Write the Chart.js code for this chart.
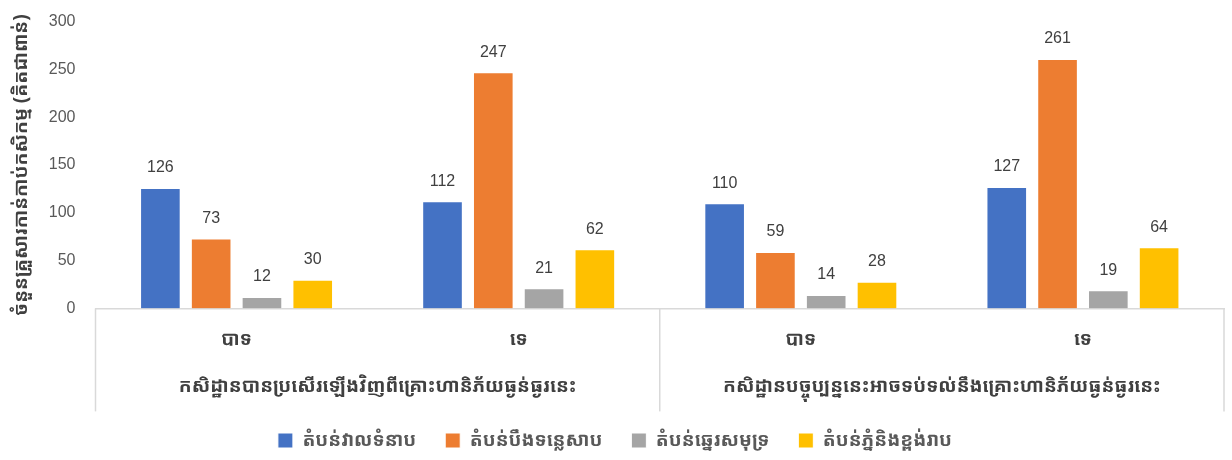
<!DOCTYPE html>
<html>
<head>
<meta charset="utf-8">
<script src="https://cdn.jsdelivr.net/npm/chart.js@4"></script>
<style>
  html, body { margin: 0; padding: 0; background: #fff; }
  #wrap { width: 1232px; height: 460px; }
</style>
</head>
<body>
<div id="wrap"><canvas id="myChart"></canvas></div>
<script>
// --------------- data -----------------------
const categories = ['បាទ', 'ទេ', 'បាទ', 'ទេ'];
const groups = [
    'កសិដ្ឋានបានប្រសើរឡើងវិញពីគ្រោះហានិភ័យធ្ងន់ធ្ងរនេះ',
    'កសិដ្ឋានបច្ចុប្បន្ននេះអាចទប់ទល់នឹងគ្រោះហានិភ័យធ្ងន់ធ្ងរនេះ'
];
const seriesNames = ['តំបន់វាលទំនាប', 'តំបន់បឹងទន្លេសាប', 'តំបន់ឆ្នេរសមុទ្រ', 'តំបន់ភ្នំនិងខ្ពង់រាប'];
const plains = [126, 112, 110, 127];
const tonleSap = [73, 247, 59, 261];
const coastal = [12, 21, 14, 19];
const plateau = [30, 62, 28, 64];
const yMin = 0, yMax = 300, yStep = 50;
const yTitle = 'ចំនួនគ្រួសារកាន់កាប់កសិកម្ម (គិតជាពាន់)';

const colors = ['#4472C4', '#ED7D31', '#A5A5A5', '#FFC000'];
const khmerFont = "'Khmer OS', 'Noto Sans Khmer', 'Khmer OS System', 'Noto Sans', sans-serif";
const numFont = "'Liberation Sans', 'Noto Sans', sans-serif";

// --------------- value labels above bars -----------------------
const valueLabels = {
    id: 'valueLabels',
    afterDatasetsDraw(chart) {
        const ctx = chart.ctx;
        ctx.save();
        ctx.fillStyle = '#404040';
        ctx.font = '16px ' + numFont;
        ctx.textAlign = 'center';
        ctx.textBaseline = 'bottom';
        chart.data.datasets.forEach((ds, i) => {
            chart.getDatasetMeta(i).data.forEach((bar, j) => {
                ctx.fillText(ds.data[j], bar.x, bar.y - 12);
            });
        });
        ctx.restore();
    }
};

// --------------- group separators -----------------------
const separators = {
    id: 'separators',
    afterDraw(chart) {
        const x = chart.scales.x;
        const ctx = chart.ctx;
        const top = chart.chartArea.bottom;
        const mid = (x.getPixelForTick(1) + x.getPixelForTick(2)) / 2;
        ctx.save();
        ctx.strokeStyle = '#D9D9D9';
        ctx.lineWidth = 1.5;
        [x.left, mid, x.right].forEach(px => {
            ctx.beginPath();
            ctx.moveTo(px, top);
            ctx.lineTo(px, top + 103);
            ctx.stroke();
        });
        ctx.restore();
    }
};

const makeSet = (label, data, i) => ({
    label: label,
    data: data,
    backgroundColor: colors[i],
    borderColor: '#ffffff',
    borderWidth: 1,
    categoryPercentage: 0.72,
    barPercentage: 0.8
});

const ctx = document.getElementById('myChart').getContext('2d');
const myChart = new Chart(ctx, {
    type: 'bar',
    data: {
        labels: categories,
        datasets: [
            makeSet(seriesNames[0], plains, 0),
            makeSet(seriesNames[1], tonleSap, 1),
            makeSet(seriesNames[2], coastal, 2),
            makeSet(seriesNames[3], plateau, 3)
        ]
    },
    options: {
        responsive: true,
        maintainAspectRatio: false,
        animation: false,
        layout: { padding: { top: -4, right: 8, left: 6, bottom: 0 } },
        plugins: {
            legend: {
                position: 'bottom',
                labels: {
                    boxWidth: 15,
                    boxHeight: 15,
                    padding: 29,
                    color: '#595959',
                    font: { family: khmerFont, size: 19, weight: 'bold' }
                }
            },
            tooltip: { enabled: false }
        },
        scales: {
            x: {
                grid: { display: false },
                border: { color: '#D9D9D9', width: 1.5 },
                ticks: {
                    color: '#404040',
                    padding: 12,
                    font: { family: khmerFont, size: 19, weight: 'bold' }
                }
            },
            x2: {
                type: 'category',
                labels: groups,
                position: 'bottom',
                offset: true,
                grid: { display: false },
                border: { display: false },
                ticks: {
                    color: '#404040',
                    padding: 4,
                    font: { family: khmerFont, size: 19, weight: 'bold' }
                }
            },
            y: {
                min: yMin,
                max: yMax,
                grid: { display: false },
                border: { display: false },
                ticks: {
                    stepSize: yStep,
                    color: '#595959',
                    padding: 12,
                    font: { family: numFont, size: 16 }
                },
                title: {
                    display: true,
                    text: yTitle,
                    color: '#404040',
                    font: { family: khmerFont, size: 19, weight: 'bold' }
                }
            }
        }
    },
    plugins: [valueLabels, separators]
});
</script>
</body>
</html>
